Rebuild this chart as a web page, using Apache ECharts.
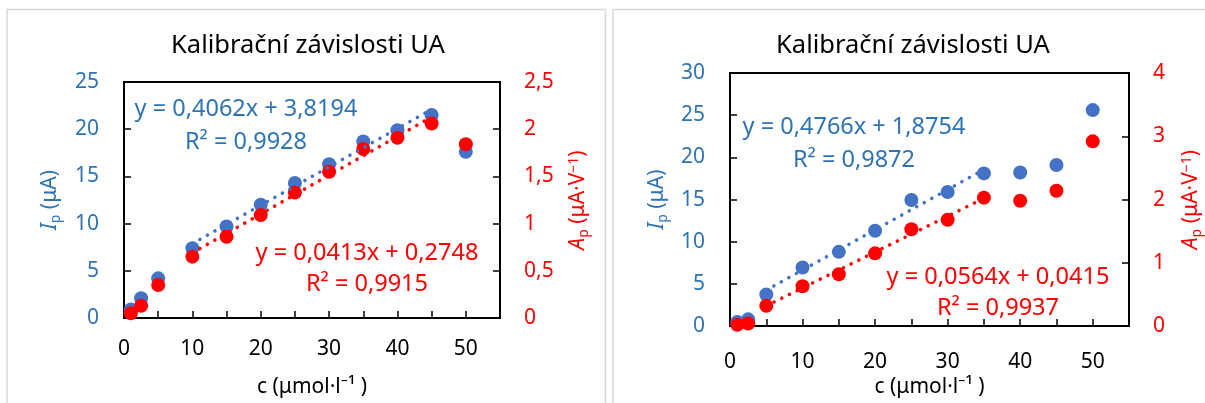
<!DOCTYPE html>
<html>
<head>
<meta charset="utf-8">
<script src="https://cdn.jsdelivr.net/npm/echarts@6/dist/echarts.min.js"></script>
<style>
html,body{margin:0;padding:0;background:#fff;}
#c{width:1205px;height:403px;}
</style>
</head>
<body>
<div id="c"></div>
<script>
// ---- data ----
const concentrations = [1, 2.5, 5, 10, 15, 20, 25, 30, 35, 40, 45, 50];
// left panel
const ipLeft = [0.9, 2.1, 4.2, 7.4, 9.7, 12.0, 14.3, 16.3, 18.7, 19.9, 21.5, 17.6];
const apLeft = [0.05, 0.13, 0.35, 0.65, 0.86, 1.09, 1.33, 1.55, 1.79, 1.91, 2.06, 1.84];
const ipLeftTrend = [[10, 7.88], [45, 22.1]];
const apLeftTrend = [[10, 0.69], [45, 2.13]];
// right panel
const ipRight = [0.5, 0.8, 3.75, 6.95, 8.8, 11.3, 14.95, 15.9, 18.1, 18.2, 19.1, 25.6];
const apRight = [0.02, 0.04, 0.32, 0.63, 0.82, 1.15, 1.53, 1.68, 2.03, 1.98, 2.14, 2.92];
const ipRightTrend = [[5, 4.26], [35, 18.56]];
const apRightTrend = [[5, 0.32], [35, 2.02]];
// texts
const titleText = 'Kalibrační závislosti UA';
const eqLeftIp = ['y = 0,4062x + 3,8194', 'R² = 0,9928'];
const eqLeftAp = ['y = 0,0413x + 0,2748', 'R² = 0,9915'];
const eqRightIp = ['y = 0,4766x + 1,8754', 'R² = 0,9872'];
const eqRightAp = ['y = 0,0564x + 0,0415', 'R² = 0,9937'];

const BLUE = '#4472C4', RED = '#FF0000', BLUE_TXT = '#2E74B5';
const FONT = 'Noto Sans';

function pairs(xs, ys) { return xs.map((x, i) => [x, ys[i]]); }
const comma = v => String(v).replace('.', ',');

function xAxis(gi, nameGap, margin) {
  return {
    type: 'value', gridIndex: gi, min: 0, max: 55, interval: 5,
    name: 'c (μmol·l⁻¹ )', nameLocation: 'middle', nameGap: nameGap,
    nameTextStyle: { fontFamily: FONT, fontSize: 21, color: '#000' },
    axisLine: { show: true, lineStyle: { color: '#000', width: 2 } },
    axisTick: { show: true, inside: true, length: 7, lineStyle: { color: '#000', width: 1.5 } },
    axisLabel: { fontFamily: FONT, fontSize: 21, color: '#000', margin: margin,
      formatter: v => (v % 10 === 0 && v <= 50) ? String(v) : '' },
    splitLine: { show: false }
  };
}
function yAxisL(gi, max, nameGap) {
  return {
    type: 'value', gridIndex: gi, min: 0, max: max, interval: 5, position: 'left',
    name: '{i|I}{s|p}{n| (μA)}', nameLocation: 'middle', nameGap: nameGap, nameRotate: 90,
    nameTextStyle: { color: BLUE_TXT, fontFamily: FONT, fontSize: 21,
      rich: { i: { fontStyle: 'italic', fontSize: 21, color: BLUE_TXT, fontFamily: FONT },
              s: { fontSize: 14, color: BLUE_TXT, fontFamily: FONT, padding: [11, 0, 0, 0] },
              n: { fontSize: 21, color: BLUE_TXT, fontFamily: FONT } } },
    axisLine: { show: true, lineStyle: { color: '#000', width: 2 } },
    axisTick: { show: true, inside: true, length: 7, lineStyle: { color: '#000', width: 1.5 } },
    axisLabel: { fontFamily: FONT, fontSize: 21, color: BLUE_TXT, margin: 25 },
    splitLine: { show: false }
  };
}
function yAxisR(gi, max, interval, nameGap) {
  return {
    type: 'value', gridIndex: gi, min: 0, max: max, interval: interval, position: 'right',
    name: '{i|A}{s|p}{n| (μA·V}{sup|−1}{n|)}', nameLocation: 'middle', nameGap: nameGap, nameRotate: 90,
    nameTextStyle: { color: RED, fontFamily: FONT, fontSize: 21,
      rich: { i: { fontStyle: 'italic', fontSize: 21, color: RED, fontFamily: FONT },
              s: { fontSize: 14, color: RED, fontFamily: FONT, padding: [11, 0, 0, 0] },
              sup: { fontSize: 14, color: RED, fontFamily: FONT, padding: [0, 0, 9, 0] },
              n: { fontSize: 21, color: RED, fontFamily: FONT } } },
    axisLine: { show: true, lineStyle: { color: '#000', width: 2 } },
    axisTick: { show: true, inside: true, length: 7, lineStyle: { color: '#000', width: 1.5 } },
    axisLabel: { fontFamily: FONT, fontSize: 21, color: RED, margin: 24, formatter: comma },
    splitLine: { show: false }
  };
}
function scatter(xi, yi, data, color) {
  return { type: 'scatter', xAxisIndex: xi, yAxisIndex: yi, data: data, symbolSize: 14,
    itemStyle: { color: color, opacity: 1 }, silent: true, z: 3 };
}
function trend(xi, yi, data, color) {
  return { type: 'line', xAxisIndex: xi, yAxisIndex: yi, data: data, showSymbol: false, symbol: 'none',
    lineStyle: { color: color, width: 3.5, type: [0.1, 8.5], cap: 'round' }, silent: true, z: 4 };
}
function eqText(lines, cx, y1, y2, color) {
  const st = { fontFamily: FONT, fontSize: 23.5, fill: color, align: 'center', verticalAlign: 'middle' };
  return [
    { type: 'text', x: cx, y: y1, style: Object.assign({ text: lines[0] }, st), z: 10 },
    { type: 'text', x: cx, y: y2, style: Object.assign({ text: lines[1] }, st), z: 10 }
  ];
}

const chart = echarts.init(document.getElementById('c'), null, { renderer: 'canvas' });
chart.setOption({
  backgroundColor: '#fff',
  animation: false,
  title: [
    { text: titleText, left: 308, top: 33, textAlign: 'center', padding: 0,
      textStyle: { fontFamily: FONT, fontSize: 25.5, fontWeight: 'normal', color: '#000' } },
    { text: titleText, left: 913, top: 33, textAlign: 'center', padding: 0,
      textStyle: { fontFamily: FONT, fontSize: 25.5, fontWeight: 'normal', color: '#000' } }
  ],
  grid: [
    { left: 124, top: 82, width: 376, height: 237, show: true, borderColor: '#000', borderWidth: 2, containLabel: false },
    { left: 730, top: 73, width: 399, height: 256, show: true, borderColor: '#000', borderWidth: 2, containLabel: false }
  ],
  xAxis: [xAxis(0, 59, 21), xAxis(1, 47, 25)],
  yAxis: [yAxisL(0, 25, 61), yAxisR(0, 2.5, 0.5, 66), yAxisL(1, 30, 60), yAxisR(1, 4, 1, 50)],
  series: [
    scatter(0, 0, pairs(concentrations, ipLeft), BLUE),
    scatter(0, 1, pairs(concentrations, apLeft), RED),
    trend(0, 0, ipLeftTrend, BLUE),
    trend(0, 1, apLeftTrend, RED),
    scatter(1, 2, pairs(concentrations, ipRight), BLUE),
    scatter(1, 3, pairs(concentrations, apRight), RED),
    trend(1, 2, ipRightTrend, BLUE),
    trend(1, 3, apRightTrend, RED)
  ],
  graphic: [
    { type: 'rect', shape: { x: 7, y: 9.5, width: 598.5, height: 420 }, style: { fill: 'none', stroke: '#D9D9D9', lineWidth: 1.5 }, z: 0, silent: true },
    { type: 'rect', shape: { x: 613, y: 9.5, width: 600, height: 420 }, style: { fill: 'none', stroke: '#D9D9D9', lineWidth: 1.5 }, z: 0, silent: true }
  ].concat(
    eqText(eqLeftIp, 246, 109, 142, BLUE_TXT),
    eqText(eqLeftAp, 367, 253, 284, RED),
    eqText(eqRightIp, 854, 127, 160, BLUE_TXT),
    eqText(eqRightAp, 998, 277, 308, RED)
  )
});
</script>
</body>
</html>
